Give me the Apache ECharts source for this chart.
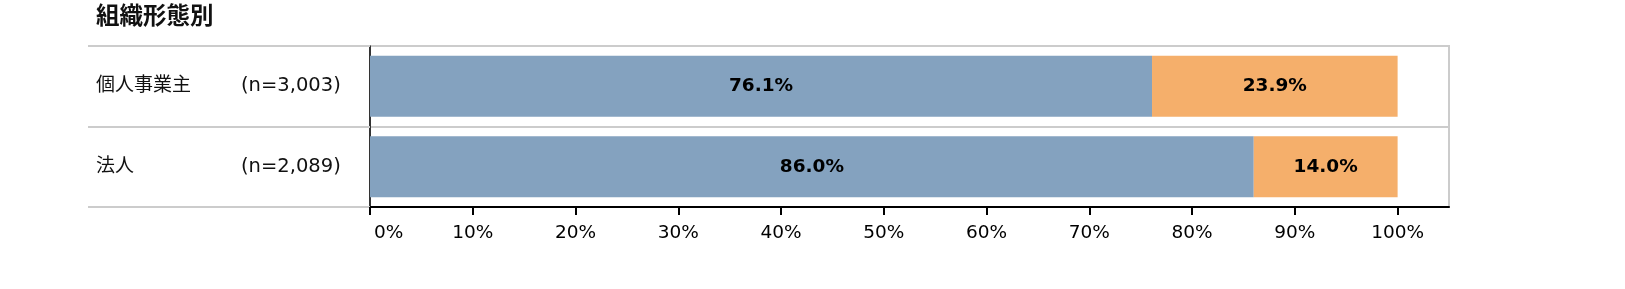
<!DOCTYPE html>
<html><head><meta charset="utf-8">
<script src="https://cdn.jsdelivr.net/npm/echarts@6/dist/echarts.min.js"></script>
<style>html,body{margin:0;padding:0;background:#fff}#c{width:1625px;height:289px}</style>
</head><body><div id="c"></div>
<script>
const title = '組織形態別';
const categories = ['個人事業主', '法人'];
const sampleSizes = ['(n=3,003)', '(n=2,089)'];
const seriesA = [76.1, 86.0];
const seriesB = [23.9, 14.0];
const tickValues = [0, 10, 20, 30, 40, 50, 60, 70, 80, 90, 100];

const FONT = "'DejaVu Sans', 'Noto Sans CJK JP', sans-serif";
const chart = echarts.init(document.getElementById('c'), null, {renderer: 'canvas'});
const labelOpt = {
  show: true, position: 'inside', color: '#000', fontWeight: 'bold',
  fontSize: 18.5, fontFamily: FONT,
  formatter: p => p.value.toFixed(1) + '%'
};
chart.setOption({
  animation: false,
  title: {
    text: title, left: 91, top: 1,
    textStyle: {fontSize: 23.5, fontWeight: 'bold', color: '#111', fontFamily: FONT}
  },
  grid: {
    left: 370, right: 176, top: 46, bottom: 82, containLabel: false,
    show: true, borderColor: '#cccccc', borderWidth: 2, backgroundColor: 'transparent'
  },
  xAxis: {
    type: 'value', min: 0, max: 105, interval: 10,
    axisLine: {show: true, lineStyle: {color: '#000', width: 2}},
    axisTick: {show: true, length: 8, customValues: tickValues, lineStyle: {color: '#000', width: 2}},
    axisLabel: {
      customValues: tickValues, margin: 17, fontSize: 18.5, color: '#000', fontFamily: FONT,
      alignMinLabel: 'left',
      formatter: v => v === 0 ? '{z|0%}' : v + '%',
      rich: {z: {fontSize: 18.5, color: '#000', fontFamily: FONT, padding: [0, 0, 0, 4]}}
    },
    splitLine: {show: false}
  },
  yAxis: {
    type: 'category', inverse: true, data: categories,
    axisLine: {show: true, lineStyle: {color: '#000', width: 1.5}},
    axisTick: {show: true, length: 282, lineStyle: {color: '#cccccc', width: 2}},
    splitLine: {show: true, lineStyle: {color: '#cccccc', width: 2}},
    axisLabel: {
      margin: 274, align: 'left',
      formatter: (v, i) => '{a|' + v + '}{b|' + sampleSizes[i] + '}',
      rich: {
        a: {width: 145, fontSize: 19, color: '#111', fontFamily: FONT},
        b: {fontSize: 19.5, color: '#111', fontFamily: FONT}
      }
    }
  },
  series: [
    {type: 'bar', stack: 's', data: seriesA, barWidth: 61, itemStyle: {color: '#84A2BF'}, label: labelOpt},
    {type: 'bar', stack: 's', data: seriesB, barWidth: 61, itemStyle: {color: '#F5AF6B'}, label: labelOpt}
  ]
});
</script></body></html>
